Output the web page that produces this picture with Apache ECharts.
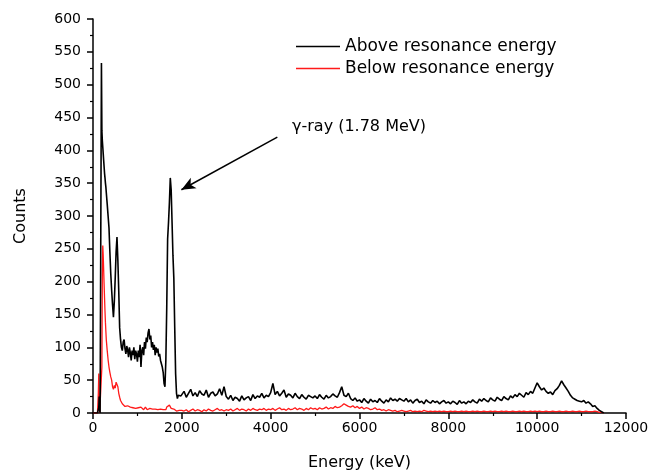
<!DOCTYPE html>
<html>
<head>
<meta charset="utf-8">
<title>Spectrum</title>
<script src="https://cdn.jsdelivr.net/npm/echarts@6/dist/echarts.min.js"></script>
<style>
    html, body { margin: 0; padding: 0; background: #fff; }
    #main { width: 650px; height: 472px; }
</style>
</head>
<body>
<div id="main"></div>
<script>
// energy channels (keV), low region is finer
var energyLow = [0, 100, 110, 120, 130, 140, 150, 160, 170, 180, 190, 200, 210, 220, 230, 240, 250, 260, 270, 280, 290];
var energyMid = [300, 320, 340, 360, 380, 400, 420, 440, 460, 480,
    500, 520, 540, 560, 580, 600, 620, 640, 660, 680,
    700, 720, 740, 760, 780, 800, 820, 840, 860, 880,
    900, 920, 940, 960, 980, 1000, 1020, 1040, 1060, 1080,
    1100, 1120, 1140, 1160, 1180, 1200, 1220, 1240, 1260, 1280,
    1300, 1320, 1340, 1360, 1380, 1400, 1420, 1440, 1460, 1480,
    1500, 1520, 1540, 1560, 1580, 1600, 1620, 1640, 1660, 1680,
    1700, 1720, 1740, 1760, 1780, 1800, 1820, 1840, 1860, 1880,
    1900, 1920, 1940, 1960, 1980];
var energyHigh = [2000, 2050, 2100, 2150, 2200, 2250, 2300, 2350, 2400, 2450, 2500, 2550, 2600, 2650, 2700, 2750, 2800, 2850, 2900, 2950,
    3000, 3050, 3100, 3150, 3200, 3250, 3300, 3350, 3400, 3450, 3500, 3550, 3600, 3650, 3700, 3750, 3800, 3850, 3900, 3950,
    4000, 4050, 4100, 4150, 4200, 4250, 4300, 4350, 4400, 4450, 4500, 4550, 4600, 4650, 4700, 4750, 4800, 4850, 4900, 4950,
    5000, 5050, 5100, 5150, 5200, 5250, 5300, 5350, 5400, 5450, 5500, 5550, 5600, 5650, 5700, 5750, 5800, 5850, 5900, 5950,
    6000, 6050, 6100, 6150, 6200, 6250, 6300, 6350, 6400, 6450, 6500, 6550, 6600, 6650, 6700, 6750, 6800, 6850, 6900, 6950,
    7000, 7050, 7100, 7150, 7200, 7250, 7300, 7350, 7400, 7450, 7500, 7550, 7600, 7650, 7700, 7750, 7800, 7850, 7900, 7950,
    8000, 8050, 8100, 8150, 8200, 8250, 8300, 8350, 8400, 8450, 8500, 8550, 8600, 8650, 8700, 8750, 8800, 8850, 8900, 8950,
    9000, 9050, 9100, 9150, 9200, 9250, 9300, 9350, 9400, 9450, 9500, 9550, 9600, 9650, 9700, 9750, 9800, 9850, 9900, 9950,
    10000, 10050, 10100, 10150, 10200, 10250, 10300, 10350, 10400, 10450, 10500, 10550, 10600, 10650, 10700, 10750, 10800, 10850, 10900, 10950,
    11000, 11050, 11100, 11150, 11200, 11250, 11300, 11350, 11400, 11450, 11500];

// Above resonance energy (black)
var aboveLow = [0, 0, 0, 0, 8, 25, 6, 0, 0, 0, 533, 430, 415, 405, 395, 385, 375, 365, 358, 350, 344];
var aboveMid = [335, 318, 300, 282, 245, 212, 187, 165, 146, 170,
    205, 245, 268, 232, 185, 130, 112, 100, 95, 108,
    112, 98, 90, 102, 96, 85, 100, 92, 80, 95,
    88, 100, 82, 95, 90, 78, 95, 85, 104, 70,
    95, 100, 88, 108, 98, 115, 108, 122, 128, 112,
    118, 100, 108, 96, 104, 88, 100, 92, 98, 86,
    90, 80, 75, 70, 62, 45, 40, 80, 160, 265,
    290, 320, 358, 340, 290, 240, 205, 130, 60, 30,
    22, 27, 24, 30, 26];
var aboveHigh = [28, 33, 24, 30, 36, 26, 31, 25, 34, 29, 27, 35, 24, 30, 32, 26, 29, 37, 27, 40,
    25, 21, 27, 19, 24, 22, 18, 26, 20, 23, 25, 19, 28, 22, 26, 24, 30, 23, 27, 25,
    31, 45, 28, 33, 26, 30, 35, 24, 29, 27, 23, 30, 25, 22, 28, 24, 21, 27, 25, 23,
    26, 22, 28, 24, 21, 27, 23, 25, 29, 26, 24, 31, 40, 27, 25, 30, 22, 19, 23, 18,
    20, 16, 22, 18, 15, 21, 17, 19, 16, 22, 18, 15, 20, 17, 23, 19, 21, 18, 22, 20,
    18, 22, 17, 20, 15, 19, 21, 16, 18, 14, 20, 17, 15, 19, 16, 18, 14, 17, 19, 15,
    17, 14, 18, 16, 13, 19, 15, 17, 14, 18, 16, 20, 17, 15, 21, 18, 22, 19, 17, 23,
    20, 18, 24, 21, 19, 25, 22, 20, 26, 23, 28, 25, 30, 27, 24, 31, 28, 33, 30, 38,
    46, 40, 35, 38, 33, 30, 32, 28, 34, 37, 42, 49, 43, 38, 33, 27, 23, 21, 19, 18,
    17, 19, 15, 17, 14, 10, 11, 7, 4, 2, 0];

// Below resonance energy (red)
var belowLow = [0, 0, 0, 30, 60, 22, 0, 0, 0, 0, 0, 70, 210, 255, 240, 218, 196, 175, 155, 138, 124];
var belowMid = [111, 95, 81, 70, 62, 55, 50, 40, 36, 42,
    38, 47, 44, 40, 30, 24, 19, 17, 14, 12,
    13, 10, 12, 9, 11, 8, 10, 9, 7, 10,
    8, 6, 9, 7, 10, 6, 8, 7, 5, 9,
    6, 8, 5, 7, 9, 6, 5, 8, 6, 7,
    4, 8, 6, 5, 9, 6, 4, 7, 5, 8,
    5, 6, 4, 7, 5, 6, 8, 5, 9, 11,
    8, 12, 10, 7, 9, 5, 6, 4, 5, 3,
    4, 2, 4, 3, 2];
var belowHigh = [4, 3, 5, 2, 4, 6, 3, 5, 4, 2, 5, 3, 6, 4, 3, 5, 7, 4, 5, 3,
    5, 4, 6, 3, 5, 7, 4, 6, 5, 3, 6, 4, 7, 5, 4, 6, 5, 7, 4, 6,
    5, 7, 4, 6, 8, 5, 6, 4, 7, 5, 6, 8, 5, 7, 6, 4, 7, 5, 8, 6,
    7, 5, 8, 6, 7, 9, 6, 8, 7, 10, 8, 9, 11, 14, 12, 10, 9, 11, 8, 10,
    7, 9, 6, 8, 7, 5, 6, 8, 5, 6, 4, 5, 3, 5, 4, 3, 4, 2, 3, 4,
    3, 2, 3, 4, 2, 3, 2, 3, 2, 4, 3, 2, 3, 2, 3, 2, 3, 2, 3, 2,
    2, 3, 2, 3, 2, 2, 3, 2, 3, 2, 2, 3, 2, 3, 2, 2, 3, 2, 2, 3,
    2, 3, 2, 2, 3, 2, 3, 2, 2, 3, 2, 2, 3, 2, 3, 2, 2, 3, 2, 3,
    2, 3, 2, 2, 3, 2, 2, 3, 2, 2, 3, 2, 2, 3, 2, 2, 3, 2, 2, 3,
    2, 2, 3, 2, 2, 2, 3, 2, 1, 1, 0];

var seriesNames = ['Above resonance energy', 'Below resonance energy'];
var annotationText = 'γ-ray (1.78 MeV)';
var arrowFrom = [4150, 420];
var arrowTo = [1990, 340];

var font = 'DejaVu Sans, sans-serif';

function pairs(xs, ys) {
    var out = [];
    for (var i = 0; i < xs.length; i++) {
        out.push([xs[i], ys[i]]);
    }
    return out;
}

var energy = energyLow.concat(energyMid, energyHigh);
var above = pairs(energy, aboveLow.concat(aboveMid, aboveHigh));
var below = pairs(energy, belowLow.concat(belowMid, belowHigh));

var chart = echarts.init(document.getElementById('main'));

var axisCommon = {
    axisLine: { show: true, lineStyle: { color: '#000', width: 1.5 } },
    axisTick: { show: true, inside: false, length: 6, lineStyle: { color: '#000', width: 1.5 } },
    minorTick: { show: true, splitNumber: 2, length: 3, lineStyle: { color: '#000', width: 1.2 } },
    splitLine: { show: false },
    nameTextStyle: { color: '#000', fontSize: 16, fontFamily: font }
};

var option = {
    animation: false,
    backgroundColor: '#fff',
    grid: { left: 93, right: 24, top: 19, bottom: 59, outerBoundsMode: 'none' },
    legend: {
        orient: 'vertical',
        left: 291,
        top: 33,
        icon: 'rect',
        itemWidth: 44,
        itemHeight: 1.5,
        itemGap: 5,
        textStyle: { color: '#000', fontSize: 17, fontFamily: font },
        data: seriesNames
    },
    xAxis: Object.assign({}, axisCommon, {
        type: 'value',
        min: 0,
        max: 12000,
        interval: 2000,
        name: 'Energy (keV)',
        nameLocation: 'middle',
        nameGap: 42,
        axisLabel: {
            color: '#000', fontSize: 14, fontFamily: font, margin: 8,
            formatter: function (v) { return String(v); }
        }
    }),
    yAxis: Object.assign({}, axisCommon, {
        type: 'value',
        min: 0,
        max: 600,
        interval: 50,
        name: 'Counts',
        nameLocation: 'middle',
        nameRotate: 90,
        nameGap: 64,
        axisLabel: { color: '#000', fontSize: 14, fontFamily: font, margin: 12 }
    }),
    graphic: [{
        type: 'text',
        left: 292,
        top: 119,
        style: { text: annotationText, fill: '#000', fontSize: 16, fontFamily: font }
    }],
    series: [
        {
            name: seriesNames[0],
            type: 'line',
            data: above,
            symbol: 'none',
            z: 3,
            lineStyle: { color: '#000', width: 1.6 },
            itemStyle: { color: '#000' },
            markLine: {
                silent: true,
                symbol: ['none', 'arrow'],
                symbolSize: [9, 14],
                label: { show: false },
                lineStyle: { color: '#000', width: 1.5, type: 'solid' },
                data: [[{ coord: arrowFrom }, { coord: arrowTo }]]
            }
        },
        {
            name: seriesNames[1],
            type: 'line',
            data: below,
            symbol: 'none',
            z: 2,
            lineStyle: { color: '#ff1a1a', width: 1.3 },
            itemStyle: { color: '#ff1a1a' }
        }
    ]
};

chart.setOption(option);
</script>
</body>
</html>
